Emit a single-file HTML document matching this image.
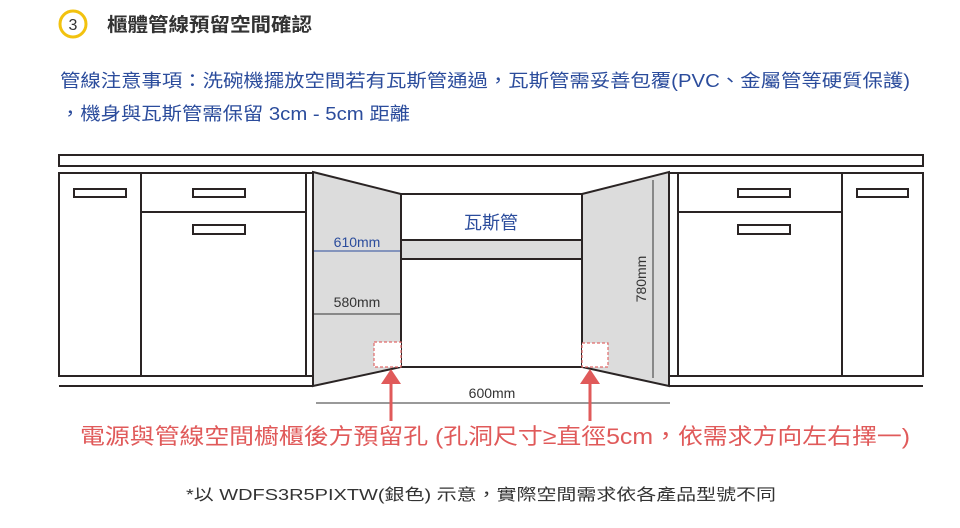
<!DOCTYPE html>
<html><head><meta charset="utf-8"><style>
html,body{margin:0;padding:0;background:#fff;}
svg{display:block;}
text{font-family:"Liberation Sans","Noto Sans CJK TC",sans-serif;}
</style></head><body>
<svg width="960" height="528" viewBox="0 0 960 528" xmlns="http://www.w3.org/2000/svg">
<circle cx="73" cy="24" r="13" fill="#fff" stroke="#f2c20f" stroke-width="3"/>
<text x="73" y="30" font-size="16" text-anchor="middle" fill="#333">3</text>
<text x="107" y="31" font-size="19" font-weight="bold" fill="#333" textLength="205" lengthAdjust="spacingAndGlyphs">櫃體管線預留空間確認</text>
<text x="60" y="87" font-size="18" fill="#2b4c9c" textLength="850" lengthAdjust="spacingAndGlyphs">管線注意事項：洗碗機擺放空間若有瓦斯管通過，瓦斯管需妥善包覆(PVC、金屬管等硬質保護)</text>
<text x="60" y="120" font-size="18" fill="#2b4c9c" textLength="350" lengthAdjust="spacingAndGlyphs">，機身與瓦斯管需保留 3cm - 5cm 距離</text>

<g stroke="#2a2424" stroke-width="2" fill="none">
<rect x="59" y="155" width="864" height="11" fill="#fff"/>
<rect x="59" y="173" width="247" height="203"/>
<line x1="306" y1="173" x2="313" y2="173"/>
<line x1="306" y1="376" x2="313" y2="376"/>
<line x1="141" y1="173" x2="141" y2="376"/>
<line x1="141" y1="212" x2="306" y2="212"/>
<line x1="59" y1="386" x2="313" y2="386"/>
<rect x="74" y="189" width="52" height="8"/>
<rect x="193" y="189" width="52" height="8"/>
<rect x="193" y="225" width="52" height="9"/>
<rect x="678" y="173" width="245" height="203"/>
<line x1="669" y1="173" x2="678" y2="173"/>
<line x1="669" y1="376" x2="678" y2="376"/>
<line x1="842" y1="173" x2="842" y2="376"/>
<line x1="678" y1="212" x2="842" y2="212"/>
<line x1="669" y1="386" x2="923" y2="386"/>
<rect x="738" y="189" width="52" height="8"/>
<rect x="738" y="225" width="52" height="9"/>
<rect x="857" y="189" width="51" height="8"/>
<rect x="401" y="194" width="181" height="173" fill="#fff"/>
<rect x="401" y="240" width="181" height="19" fill="#dcdcdc"/>
<polygon points="313,172 401,194 401,367 313,386" fill="#dcdcdc"/>
<polygon points="582,194 669,172 669,386 582,367" fill="#dcdcdc"/>
</g>
<g stroke="#e06a6a" stroke-width="1.2" stroke-dasharray="3,2" fill="#fff">
<rect x="374" y="342" width="27" height="25"/>
<rect x="582" y="343" width="26" height="24"/>
</g>
<line x1="314" y1="251" x2="400" y2="251" stroke="#2b4c9c" stroke-width="1"/>
<text x="357" y="247" font-size="14" fill="#2b4c9c" text-anchor="middle">610mm</text>
<line x1="314" y1="314" x2="400" y2="314" stroke="#333" stroke-width="1"/>
<text x="357" y="307" font-size="14" fill="#333" text-anchor="middle">580mm</text>
<line x1="653" y1="180" x2="653" y2="378" stroke="#333" stroke-width="1"/>
<text transform="translate(646,279) rotate(-90)" font-size="14" fill="#333" text-anchor="middle">780mm</text>
<line x1="316" y1="403" x2="670" y2="403" stroke="#333" stroke-width="1"/>
<text x="492" y="398" font-size="14" fill="#333" text-anchor="middle">600mm</text>
<text x="491" y="229" font-size="18" fill="#2b4c9c" text-anchor="middle">瓦斯管</text>
<g fill="#e05a5a" stroke="#e05a5a">
<line x1="391" y1="382" x2="391" y2="421" stroke-width="3"/>
<polygon points="381,384 401,384 391,369" stroke="none"/>
<line x1="590" y1="382" x2="590" y2="421" stroke-width="3"/>
<polygon points="580,384 600,384 590,369" stroke="none"/>
</g>
<text x="80" y="444" font-size="22" fill="#e05a5a" textLength="830" lengthAdjust="spacingAndGlyphs">電源與管線空間櫥櫃後方預留孔 (孔洞尺寸≥直徑5cm，依需求方向左右擇一)</text>
<text x="186" y="500" font-size="16" fill="#333" textLength="590" lengthAdjust="spacingAndGlyphs">*以 WDFS3R5PIXTW(銀色) 示意，實際空間需求依各產品型號不同</text>
</svg>
</body></html>
